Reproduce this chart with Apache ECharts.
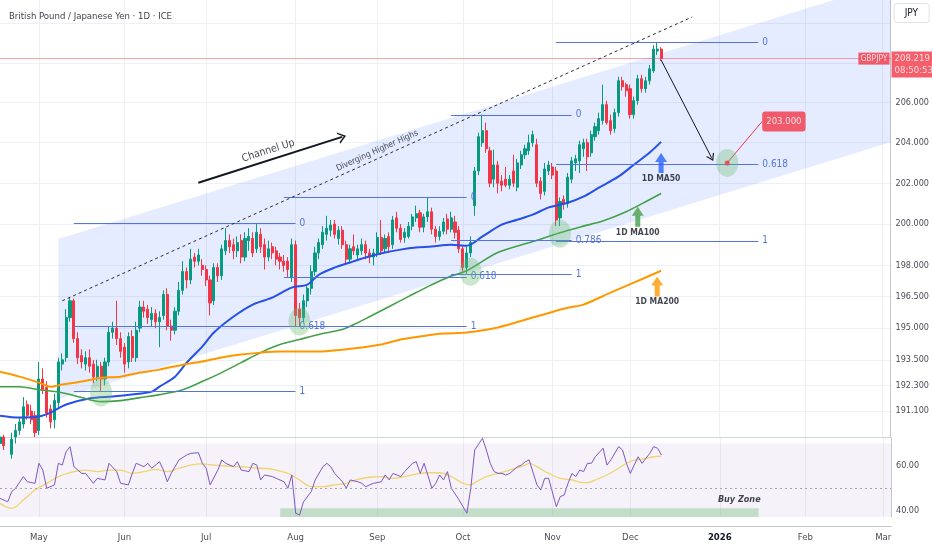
<!DOCTYPE html>
<html><head><meta charset="utf-8">
<script src="https://cdn.jsdelivr.net/npm/echarts@6/dist/echarts.min.js"></script>
<style>html,body{margin:0;padding:0;background:#fff}#c{width:932px;height:550px}</style>
</head><body><div id="c"></div>
<script>
// ---------- categories: trading days shown on the chart ----------
const tradingDays = {
 '2025-04':[17,18,21,22,23,24,25,28,29,30],
 '2025-05':[1,2,5,6,7,8,9,12,13,14,15,16,19,20,21,22,23,26,27,28,29,30],
 '2025-06':[2,3,4,5,6,9,10,11,12,13,16,17,18,19,20,23,24,25,26,27,30],
 '2025-07':[1,2,3,4,7,8,9,10,11,14,15,16,17,18,21,22,23,24,25,28,29,30,31],
 '2025-08':[1,4,5,6,7,8,11,12,13,14,15,18,19,20,21,22,25,26,27,28,29],
 '2025-09':[1,2,3,4,5,8,9,10,11,12,15,16,17,18,19,22,23,24,25,26,29,30],
 '2025-10':[1,2,3,6,7,8,9,10,13,14,15,16,17,20,21,22,23,24,27,28,29,30,31],
 '2025-11':[3,4,5,6,7,10,11,12,13,14,17,18,19,20,21,24,25,26,27,28],
 '2025-12':[1,2,3,4,5,8,9,10,11,12,15,16,17,18,19,22,23,24,25,26,29,30,31],
 '2026-01':[1,2,5,6,7,8,9,12,13,14,15,16,19,20,21,22,23,26,27,28,29,30],
 '2026-02':[2,3,4,5,6,9,10,11,12,13,16,17,18,19,20,23,24,25,26,27],
 '2026-03':[2,3,4]
};
const monthNames = ['Jan','Feb','Mar','Apr','May','Jun','Jul','Aug','Sep','Oct','Nov','Dec'];

// ---------- candles: [open, close, low, high], one per trading day from 2025-04-17 ----------
const candles = [
[189.6,189.9,189.3,190.2],[189.9,189.5,189.3,190.0],[189.5,189.1,188.6,189.7],[189.1,189.8,188.9,190.1],
[189.9,190.2,189.6,190.5],[190.2,190.6,190.0,190.8],[190.5,191.3,190.3,191.75],[191.4,190.9,190.7,191.6],
[191.1,190.7,190.5,191.4],[190.9,190.1,189.9,191.1],[190.2,192.6,190.0,193.4],[192.6,192.1,191.9,193.1],
[192.2,191.0,190.8,192.5],[191.2,190.6,190.3,191.4],[190.7,191.6,190.3,191.9],[191.5,193.4,191.2,193.6],
[193.3,193.5,193.0,193.8],[193.6,195.5,193.4,195.9],[195.5,196.3,195.3,196.45],[196.3,194.5,194.3,196.4],
[194.5,193.6,193.3,194.8],[193.7,193.4,193.1,194.0],[193.3,193.6,193.0,193.9],[193.6,193.2,192.9,194.0],
[193.3,192.7,192.4,193.5],[192.7,193.2,192.5,193.5],[193.2,192.6,192.0,193.4],[192.6,193.4,192.3,193.6],
[193.4,194.8,193.2,195.1],[194.8,195.0,194.5,195.3],[195.0,194.5,194.2,196.3],[194.5,193.9,193.6,194.8],
[194.1,193.3,192.9,194.3],[193.4,194.6,193.1,194.8],[194.6,193.6,193.4,194.9],[193.6,194.9,193.4,195.3],
[195.0,196.0,194.8,196.3],[196.0,195.8,195.5,196.3],[195.9,195.5,195.2,196.1],[195.4,195.7,195.1,196.0],
[195.7,195.3,195.0,195.9],[195.3,195.5,194.1,195.8],[195.6,196.6,195.4,196.8],[196.6,195.1,194.9,196.9],
[195.1,194.9,194.4,195.4],[194.9,195.8,194.7,196.0],[195.8,196.8,195.6,197.2],[196.8,197.7,196.6,198.2],
[197.7,197.3,196.9,197.9],[197.3,198.3,197.1,198.8],[198.4,198.2,197.9,198.6],[198.2,198.5,198.0,198.8],
[198.0,197.8,197.5,198.3],[197.8,197.3,197.0,198.0],[197.3,196.2,195.6,197.5],[196.3,197.9,196.1,198.1],
[197.9,197.5,197.2,198.1],[197.5,198.8,197.3,199.0],[198.7,199.2,198.5,199.8],[199.2,198.9,198.6,199.5],
[199.0,198.7,198.3,199.3],[198.7,199.1,198.4,199.4],[199.2,198.4,198.1,199.5],[198.4,199.3,198.2,199.6],
[199.2,199.4,198.7,199.8],[199.3,198.6,198.4,199.6],[198.8,199.6,198.6,200.0],[199.5,198.9,198.6,199.8],
[199.0,198.4,197.8,199.3],[198.4,198.8,198.2,199.2],[198.9,198.6,198.3,199.1],[198.7,198.3,198.0,198.9],
[198.4,198.2,197.8,198.6],[198.2,198.0,197.7,198.5],[198.2,197.8,197.4,198.4],[197.4,199.0,197.2,199.3],
[199.0,195.6,195.1,199.2],[195.9,195.5,195.1,196.2],[195.5,196.3,195.3,196.6],[196.3,196.9,196.0,197.1],
[196.9,197.7,196.6,198.0],[197.7,198.6,197.5,198.9],[198.6,199.1,198.3,199.3],[199.0,199.6,198.8,199.9],
[199.5,199.8,199.2,200.4],[199.7,199.95,199.4,200.2],[200.0,199.5,199.3,200.2],[199.3,199.7,199.0,199.9],
[199.7,199.0,198.8,199.9],[199.0,198.3,198.1,199.2],[198.3,198.8,198.1,199.0],[198.9,198.7,198.5,199.5],
[198.5,198.8,198.2,199.0],[198.7,199.0,198.5,199.3],[199.0,198.6,198.3,199.2],[198.6,198.4,198.1,198.8],
[198.4,198.6,198.0,198.8],[198.6,199.35,198.4,199.6],[199.35,198.7,198.5,200.2],[198.8,199.3,198.6,199.5],
[199.4,198.9,198.7,199.6],[199.0,200.2,198.8,200.4],[200.3,199.8,199.6,200.6],[199.8,199.25,199.1,200.0],
[199.35,199.6,199.1,199.8],[199.4,199.9,199.3,200.1],[199.9,200.35,199.7,200.5],[200.3,200.5,200.1,200.9],
[200.55,199.85,199.6,200.7],[199.85,200.35,199.6,200.5],[200.35,200.6,200.1,201.3],[200.6,199.75,199.5,200.8],
[199.75,199.4,199.1,199.9],[199.4,199.65,199.2,199.9],[199.65,200.1,199.5,200.3],[200.25,199.75,199.5,200.5],
[199.75,200.3,199.6,200.6],[200.1,199.6,199.3,200.4],[199.7,198.8,198.6,199.9],[198.8,197.9,197.7,199.0],
[197.9,198.6,197.6,198.9],[198.6,199.1,198.4,199.4],[200.9,202.6,200.4,202.8],[202.6,204.3,202.4,204.5],
[204.0,204.6,203.8,205.4],[204.6,203.7,203.5,205.0],[203.6,202.0,201.8,203.8],[202.2,202.9,201.8,203.65],
[202.9,202.0,201.5,203.1],[202.1,201.9,201.6,202.4],[202.2,201.9,201.8,202.8],[201.9,202.2,201.7,202.4],
[202.6,202.0,201.8,203.4],[201.8,203.0,201.6,203.2],[202.9,203.4,202.7,203.6],[203.4,203.7,203.2,203.9],
[203.6,204.0,203.4,204.4],[204.0,204.4,203.8,204.6],[203.9,202.0,201.8,204.2],[202.1,201.5,201.2,202.3],
[201.6,202.7,201.4,203.0],[202.6,202.9,202.4,203.1],[202.8,202.4,202.2,203.0],[202.6,200.2,199.9,202.8],
[200.3,201.1,199.9,201.3],[201.2,201.0,200.7,201.4],[201.0,202.3,200.8,202.5],[202.2,203.1,202.0,203.3],
[203.0,203.2,202.6,203.4],[203.1,203.9,202.5,204.1],[203.7,204.0,203.3,204.2],[204.0,203.3,202.6,204.2],
[203.5,204.4,203.3,204.6],[204.3,204.8,204.1,205.0],[204.6,205.2,204.4,205.5],[205.1,205.9,204.9,206.9],
[205.9,205.0,204.9,206.1],[205.1,204.6,204.4,205.4],[204.7,205.5,204.5,205.7],[205.5,207.1,205.3,207.3],
[207.1,206.8,206.6,207.3],[206.9,206.6,206.3,207.0],[206.7,205.4,205.2,206.9],[205.4,206.1,205.2,206.3],
[206.1,207.2,205.9,207.4],[207.2,206.7,206.5,207.4],[206.7,207.1,206.5,207.3],[207.1,207.7,206.9,207.9],
[207.6,208.7,207.5,208.9],[208.6,208.7,208.4,209.03],[208.7,208.219,208.1,208.8]
];
const lastPrice = 208.219;

// ---------- moving averages: [day index, price] ----------
const ma50 = [[0,190.89],[5,190.80],[10,190.85],[13,191.03],[17,191.41],[23,191.69],[29,191.78],[34,191.87],[39,192.01],[41,192.24],[45,192.71],[48,193.37],[52,194.12],[55,194.79],[60,195.54],[65,196.12],[70,196.45],[75,196.93],[79,197.07],[82,197.55],[86,197.89],[90,198.14],[94,198.38],[99,198.62],[103,198.76],[107,198.86],[111,198.91],[116,199.00],[120,198.95],[124,199.39],[129,199.97],[133,200.21],[137,200.46],[141,200.80],[146,201.04],[150,201.34],[154,201.78],[159,202.32],[163,202.91],[167,203.50],[170,204.04]];
const ma100 = [[0,192.24],[5,192.24],[10,192.10],[16,191.96],[21,191.73],[26,191.54],[31,191.59],[36,191.73],[41,191.87],[47,192.10],[52,192.48],[57,192.90],[62,193.37],[67,193.84],[72,194.22],[77,194.46],[82,194.70],[88,194.93],[91,195.17],[95,195.54],[100,196.02],[105,196.50],[110,196.98],[115,197.41],[120,197.74],[128,198.62],[137,199.15],[144,199.58],[150,199.90],[155,200.15],[161,200.60],[167,201.19],[170,201.49]];
const ma200 = [[0,192.94],[5,192.71],[10,192.43],[13,192.24],[16,192.34],[21,192.48],[26,192.66],[31,192.71],[36,192.90],[41,193.04],[47,193.27],[52,193.42],[57,193.61],[62,193.75],[67,193.84],[72,193.89],[77,193.89],[82,193.89],[88,193.98],[93,194.08],[98,194.22],[103,194.46],[108,194.60],[114,194.74],[120,194.79],[128,195.03],[137,195.50],[146,195.97],[150,196.12],[157,196.69],[163,197.17],[170,197.74]];

// ---------- RSI pane ----------
const rsi = [[0,45.6],[2,44.1],[3,48.6],[4,50.1],[6,55.3],[7,53.0],[9,52.3],[10,61.2],[11,58.2],[12,50.1],[14,51.6],[15,61.2],[16,60.4],[17,66.4],[18,68.6],[19,59.7],[21,56.7],[22,56.7],[24,52.3],[25,54.5],[27,53.8],[28,61.2],[30,57.5],[31,52.3],[33,51.6],[34,56.7],[35,61.2],[37,59.7],[38,61.2],[39,59.0],[41,61.9],[42,58.2],[43,53.0],[44,56.7],[46,62.7],[48,64.9],[49,65.6],[51,65.9],[52,61.2],[53,59.0],[54,51.6],[56,58.2],[57,62.7],[58,61.2],[60,59.7],[61,61.9],[62,58.2],[64,57.5],[65,61.2],[66,60.4],[67,53.8],[68,56.0],[70,55.3],[71,54.5],[73,53.0],[74,50.1],[75,56.0],[76,39.0],[77,38.2],[78,44.1],[80,48.6],[81,53.8],[83,59.7],[84,61.2],[85,59.7],[86,56.7],[88,53.0],[89,50.1],[90,53.8],[92,53.0],[93,52.3],[94,50.8],[95,51.6],[96,52.3],[98,53.0],[99,56.0],[100,53.8],[101,56.7],[103,55.3],[104,57.5],[106,61.2],[107,61.9],[108,56.7],[109,61.2],[111,50.1],[112,52.3],[113,56.0],[114,53.8],[115,57.5],[116,50.1],[118,44.9],[119,41.9],[120,39.0],[121,50.1],[122,67.1],[124,72.3],[125,67.1],[126,61.2],[127,57.5],[128,56.7],[129,56.7],[130,56.0],[131,56.7],[133,59.7],[134,60.4],[135,61.9],[136,62.7],[138,51.6],[139,49.3],[140,54.5],[141,54.5],[143,41.9],[144,46.4],[145,47.1],[146,52.3],[147,56.7],[148,55.3],[149,58.2],[150,57.5],[151,61.2],[152,61.2],[153,64.1],[155,67.9],[156,60.4],[157,62.7],[159,68.6],[160,67.1],[161,61.2],[162,56.7],[163,60.4],[164,64.1],[165,61.2],[166,63.4],[167,65.6],[168,68.6],[169,67.9],[170,64.9]];
const rsiMa = [[0,43.4],[3,41.2],[6,44.9],[9,49.3],[12,52.3],[15,55.3],[19,57.5],[22,58.2],[25,57.5],[28,58.2],[31,58.2],[34,56.7],[37,57.5],[40,58.5],[43,57.5],[46,59.0],[49,60.4],[52,60.9],[55,60.4],[58,60.0],[61,59.7],[64,59.4],[67,59.0],[70,58.5],[74,56.7],[77,53.8],[80,50.8],[83,50.8],[86,51.6],[89,52.3],[92,54.1],[95,55.0],[98,55.3],[101,54.5],[104,55.3],[107,56.4],[110,57.0],[113,57.0],[116,55.3],[119,52.3],[121,51.6],[122,52.6],[125,55.3],[128,56.7],[131,58.2],[135,60.4],[136,61.2],[138,59.7],[141,56.7],[144,54.5],[147,53.8],[150,52.6],[151,52.6],[153,53.8],[156,56.0],[159,59.0],[162,62.0],[165,63.1],[168,64.1],[170,64.4]];
const rsiBand = [37.33, 70];
const buyZone = [['2025-07-28', 41.2], ['2026-01-15', 37.33]];
const buyZoneLabel = ['2026-01-08', 44.9, 'Buy Zone'];

// ---------- axis ticks ----------
const priceTicks = [191.1, 192.3, 193.5, 195, 196.5, 198, 200, 202, 204, 206];
const priceGridTicks = [191.1, 192.3, 193.5, 195, 196.5, 198, 200, 202, 204, 206, 208, 210];
const rsiTicks = [40, 60];

// ---------- drawings (date, price anchors) ----------
const channel = [['2025-05-08',199.27],['2026-03-04',212.11],['2026-03-04',204.02],['2025-05-08',191.66]];
const divergingLine = [['2025-05-09',196.3],['2025-12-23',210.34]];
const channelArrow = [['2025-06-27',202.02],['2025-08-19',204.29]];
const projectionArrow = [['2025-12-11',208.15],['2025-12-30',203.25]];
const fibSets = [
 {from:'2025-05-14', to:'2025-08-01', levels:[['0',200.02],['0.618',195.07],['1',192.01]]},
 {from:'2025-07-29', to:'2025-10-02', levels:[['0',201.29],['0.618',197.45],['1',195.07]]},
 {from:'2025-09-26', to:'2025-11-10', levels:[['0',205.39],['0.786',199.23],['1',197.55]]},
 {from:'2025-11-04', to:'2026-01-15', levels:[['0',209.03],['0.618',202.95],['1',199.19]]}
];
const circles = [['2025-05-23',191.96],['2025-08-04',195.31],['2025-10-03',197.69],['2025-11-05',199.53],['2026-01-05',203.0]];
const target = ['2026-01-05', 203.0];
const targetBox = ['2026-01-16', 205.06, '203.000'];
const maArrows = [
 {at:['2025-12-11',203.0], color:'#2962FF'},
 {at:['2025-12-03',200.36], color:'#43A047'},
 {at:['2025-12-10',196.98], color:'#FF9800'}
];
const notes = [
 {at:['2025-07-23',203.60], text:'Channel Up', rotate:17.7, size:10.5, weight:'normal'},
 {at:['2025-09-01',203.60], text:'Diverging Higher Highs', rotate:24.2, size:8.5, weight:'normal'},
 {at:['2025-12-11',202.22], text:'1D MA50', rotate:0, size:8.5, weight:'bold'},
 {at:['2025-12-03',199.58], text:'1D MA100', rotate:0, size:8.5, weight:'bold'},
 {at:['2025-12-10',196.26], text:'1D MA200', rotate:0, size:8.5, weight:'bold'}
];

// ---------- build ----------
const dates = [];
for (const ym in tradingDays) tradingDays[ym].forEach(d => dates.push(ym + '-' + String(d).padStart(2, '0')));
const idx = d => dates.indexOf(d);
const isMonthStart = i => i > 0 && dates[i].slice(0, 7) !== dates[i - 1].slice(0, 7);
const FONT = '"Liberation Sans Narrow","DejaVu Sans Condensed","Roboto Condensed",Roboto,sans-serif';
const chevron = 'path://M0,10 L5,0 L10,10 L8.5,10 L5,3 L1.5,10 Z';
const blockArrow = 'path://M6,0 L12,9 L8.5,9 L8.5,20 L3.5,20 L3.5,9 L0,9 Z';
const ellipse = 'path://M0,50 A50,50 0 1,1 100,50 A50,50 0 1,1 0,50 Z';
const fibColor = '#5374DF';
const gridColor = '#eef0f4';

const markLines = [{yAxis: lastPrice, lineStyle:{color:'rgba(242,54,69,0.45)', width:1, type:'solid'}}];
fibSets.forEach(s => s.levels.forEach(([lab, p]) => {
  markLines.push([
    {coord:[idx(s.from), p], lineStyle:{color:fibColor, width:1, type:'solid'},
     label:{show:true, position:'end', formatter:lab, color:fibColor, fontSize:10, distance:4, fontFamily:FONT}},
    {coord:[idx(s.to), p]}
  ]);
}));
markLines.push([{coord:[idx(divergingLine[0][0]), divergingLine[0][1]], lineStyle:{color:'#2a2d35', width:1, type:[3,3]}},
                 {coord:[idx(divergingLine[1][0]), divergingLine[1][1]]}]);
[channelArrow, projectionArrow].forEach((a, k) => {
  markLines.push([{coord:[idx(a[0][0]), a[0][1]], lineStyle:{color:'#131722', width:k === 0 ? 2 : 1, type:'solid'}},
                   {coord:[idx(a[1][0]), a[1][1]], symbol:chevron, symbolSize:k === 0 ? [12, 8] : [9, 7]}]);
});
markLines.push([{coord:[idx(target[0]), target[1]], lineStyle:{color:'#F23645', width:1, type:'solid'}},
                 {coord:[idx(targetBox[0]), targetBox[1]]}]);

const chart = echarts.init(document.getElementById('c'));
chart.setOption({
  animation:false,
  backgroundColor:'#fff',
  textStyle:{fontFamily:FONT},
  title:[
    {text:'British Pound / Japanese Yen · 1D · ICE', left:4, top:7,
     textStyle:{fontSize:9.5, fontWeight:'normal', color:'#3f424a', fontFamily:FONT}},
    {text:'JPY', right:3, top:3, padding:[5,11], borderColor:'#e0e3eb', borderWidth:1, borderRadius:3, backgroundColor:'#fff',
     textStyle:{fontSize:10, fontWeight:'normal', color:'#131722', fontFamily:FONT}}
  ],
  grid:[
    {left:-1, right:41, top:0, height:437},
    {left:-1, right:41, top:438, height:79}
  ],
  xAxis:[
    {type:'category', gridIndex:0, data:dates, boundaryGap:false,
     axisLine:{show:true, lineStyle:{color:'#d3d5db'}}, axisTick:{show:false}, axisLabel:{show:false},
     splitLine:{show:true, interval:(i) => isMonthStart(i), lineStyle:{color:gridColor}}},
    {type:'category', gridIndex:1, data:dates, boundaryGap:false, offset:9,
     axisLine:{show:true, lineStyle:{color:'#c4c7ce'}}, axisTick:{show:false},
     axisLabel:{interval:(i) => isMonthStart(i), margin:7, color:'#4a4d55', fontSize:9.5, fontFamily:FONT,
       formatter:(v) => { const m = +v.slice(5, 7); return m === 1 ? '{b|' + v.slice(0, 4) + '}' : monthNames[m - 1]; },
       rich:{b:{fontWeight:'bold', fontSize:9.5, color:'#131722', fontFamily:FONT}}},
     splitLine:{show:true, interval:(i) => isMonthStart(i), lineStyle:{color:gridColor}}}
  ],
  yAxis:[
    {type:'log', gridIndex:0, position:'right', min:189.90, max:211.21,
     axisLine:{show:true, lineStyle:{color:'#c4c7ce'}},
     axisTick:{show:false, customValues:priceGridTicks},
     axisLabel:{customValues:priceTicks, formatter:(v) => (+v).toFixed(3), margin:5, color:'#4a4d55', fontSize:9, fontFamily:FONT},
     splitLine:{show:true, lineStyle:{color:gridColor}}},
    {type:'value', gridIndex:1, position:'right', min:37.33, max:72.44,
     axisLine:{show:true, lineStyle:{color:'#c4c7ce'}},
     axisTick:{show:false, customValues:rsiTicks},
     axisLabel:{customValues:rsiTicks, formatter:(v) => (+v).toFixed(2), margin:5, color:'#4a4d55', fontSize:9, fontFamily:FONT},
     splitLine:{show:false}}
  ],
  series:[
    {type:'custom', xAxisIndex:0, yAxisIndex:0, z:1, silent:true, clip:true,
     data:[[idx(channel[0][0]), channel[0][1]]],
     renderItem:(params, api) => ({
       type:'polygon',
       shape:{points: channel.map(p => api.coord([idx(p[0]), p[1]]))},
       style:{fill:'rgba(41,98,255,0.12)'}
     })},
    {type:'candlestick', xAxisIndex:0, yAxisIndex:0, z:3, data:candles, barWidth:2.6, clip:true,
     itemStyle:{color:'#089981', color0:'#F23645', borderColor:'#089981', borderColor0:'#F23645', borderWidth:1},
     markLine:{silent:true, symbol:['none','none'], label:{show:false}, data:markLines}},
    {type:'line', xAxisIndex:0, yAxisIndex:0, z:4, data:ma50, showSymbol:false, smooth:0.3, silent:true,
     lineStyle:{color:'#2450E8', width:2}},
    {type:'line', xAxisIndex:0, yAxisIndex:0, z:4, data:ma100, showSymbol:false, smooth:0.3, silent:true,
     lineStyle:{color:'#43A047', width:1.6}},
    {type:'line', xAxisIndex:0, yAxisIndex:0, z:4, data:ma200, showSymbol:false, smooth:0.3, silent:true,
     lineStyle:{color:'#FF9800', width:2}},
    {type:'scatter', xAxisIndex:0, yAxisIndex:0, z:5, silent:true,
     data:circles.map(c => [idx(c[0]), c[1]]), symbol:ellipse, symbolSize:[22,28],
     itemStyle:{color:'rgba(102,187,106,0.42)'}},
    {type:'scatter', xAxisIndex:0, yAxisIndex:0, z:6, silent:true, clip:false,
     data:[
       {value:[idx(target[0]), target[1]], symbol:'circle', symbolSize:5, itemStyle:{color:'#F23645'}},
       {value:[idx(targetBox[0]), targetBox[1]], symbolSize:0,
        label:{show:true, position:'right', distance:0, formatter:targetBox[2], backgroundColor:'#F23645',
               color:'#fff', fontSize:9.5, padding:[5,4], borderRadius:3, fontFamily:FONT}}
     ].concat(maArrows.map(a => ({value:[idx(a.at[0]), a.at[1]], symbol:blockArrow, symbolSize:[12,20], itemStyle:{color:a.color}})))
      .concat(notes.map(n => ({value:[idx(n.at[0]), n.at[1]], symbolSize:0,
        label:{show:true, position:'inside', formatter:n.text, rotate:n.rotate, fontSize:n.size, fontWeight:n.weight,
               color:'#131722', fontFamily:FONT}})))},
    {type:'scatter', xAxisIndex:0, yAxisIndex:0, z:7, silent:true, clip:false,
     data:[
       {value:[dates.length - 1, lastPrice], symbolSize:0,
        label:{show:true, position:'left', distance:1, formatter:'GBPJPY', backgroundColor:'#F23645', color:'#fff',
               fontSize:8.5, padding:[2,2,1,2], fontFamily:FONT}},
       {value:[dates.length - 1, lastPrice], symbolSize:0,
        label:{show:true, position:'right', distance:1, formatter:'208.219\n08:50:53', backgroundColor:'#F23645', color:'#fff',
               fontSize:9.5, lineHeight:12, padding:[1,3], offset:[0,6], fontFamily:FONT}}
     ]},
    {type:'line', xAxisIndex:1, yAxisIndex:1, z:3, data:rsi, showSymbol:false, silent:true,
     lineStyle:{color:'#7E57C2', width:1},
     markArea:{silent:true, data:[
       [{yAxis:rsiBand[0], itemStyle:{color:'rgba(126,87,194,0.08)'}}, {yAxis:rsiBand[1]}],
       [{xAxis:buyZone[0][0], yAxis:buyZone[0][1], itemStyle:{color:'rgba(102,187,106,0.35)'}}, {xAxis:buyZone[1][0], yAxis:buyZone[1][1]}]
     ]},
     markLine:{silent:true, symbol:['none','none'], label:{show:false},
       data:[{yAxis:50, lineStyle:{color:'#a3a6ae', type:[2,3], width:1}}]}},
    {type:'line', xAxisIndex:1, yAxisIndex:1, z:2, data:rsiMa, showSymbol:false, smooth:0.4, silent:true,
     lineStyle:{color:'#F3D36B', width:1.3}},
    {type:'scatter', xAxisIndex:1, yAxisIndex:1, z:5, silent:true,
     data:[{value:[idx(buyZoneLabel[0]), buyZoneLabel[1]], symbolSize:0,
       label:{show:true, position:'inside', formatter:buyZoneLabel[2], fontSize:9, fontWeight:'bold', fontStyle:'italic',
              color:'#131722', fontFamily:FONT}}]}
  ]
});
</script>
</body></html>
